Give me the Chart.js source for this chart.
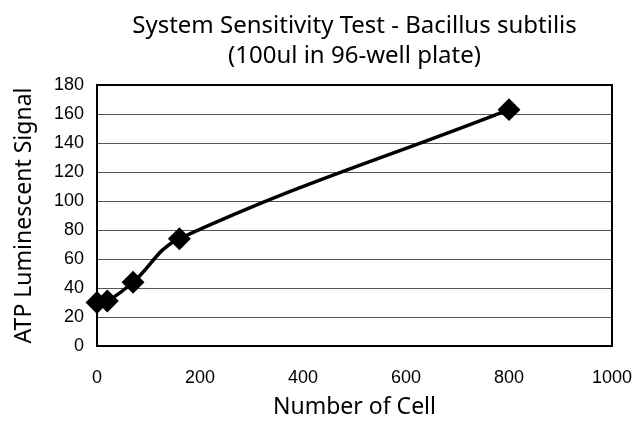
<!DOCTYPE html>
<html>
<head>
<meta charset="utf-8">
<script src="https://cdn.jsdelivr.net/npm/chart.js@4"></script>
<style>
html,body{margin:0;padding:0;background:#fff;}
#wrap{width:637px;height:421px;}
</style>
</head>
<body>
<div id="wrap"><canvas id="c" width="637" height="421"></canvas></div>
<script>
const cellCounts = [0, 20, 70, 160, 800];
const signalValues = [30, 31, 44, 74, 163];
const xTicks = [0, 200, 400, 600, 800, 1000];
const yTicks = [0, 20, 40, 60, 80, 100, 120, 140, 160, 180];
const titleLines = ['System Sensitivity Test - Bacillus subtilis', '(100ul in 96-well plate)'];

const points = cellCounts.map((x, i) => ({x: x, y: signalValues[i]}));
const titleFont = "'Noto Sans', sans-serif";
const tickFont = "'Liberation Sans', Arial, sans-serif";

const boxPlugin = {
  id: 'box',
  afterDraw(chart) {
    const a = chart.chartArea, ctx = chart.ctx;
    ctx.save();
    ctx.strokeStyle = '#000';
    ctx.lineWidth = 2;
    ctx.strokeRect(a.left, a.top, a.right - a.left, a.bottom - a.top);
    ctx.restore();
  }
};

new Chart(document.getElementById('c'), {
  type: 'scatter',
  data: {
    datasets: [{
      data: points,
      showLine: true,
      borderColor: '#000',
      backgroundColor: '#000',
      borderWidth: 3.5,
      tension: 0.4,
      pointStyle: 'rectRot',
      pointRadius: 9,
      pointHoverRadius: 9,
      clip: false
    }]
  },
  options: {
    responsive: false,
    animation: false,
    layout: {padding: {left: 0, right: 25, top: 0, bottom: 0}},
    plugins: {
      legend: {display: false},
      tooltip: {enabled: false},
      title: {
        display: true,
        fullSize: false,
        text: titleLines,
        color: '#000',
        font: {family: titleFont, size: 24, weight: 'normal', lineHeight: 1.25},
        padding: {top: 11, bottom: 14}
      }
    },
    scales: {
      x: {
        type: 'linear',
        min: 0, max: 1000,
        afterBuildTicks(s) { s.ticks = xTicks.map(v => ({value: v})); },
        afterFit(s) { s.height = 75; s.paddingLeft = 0; s.paddingRight = 0; },
        grid: {display: false, drawTicks: false},
        border: {display: true, color: '#000', width: 2},
        ticks: {color: '#000', font: {family: tickFont, size: 18}, padding: 21, maxRotation: 0,
                callback: v => String(v)},
        title: {display: true, text: 'Number of Cell', color: '#000', font: {family: titleFont, size: 23}, padding: {top: 2, bottom: 0}}
      },
      y: {
        type: 'linear',
        min: 0, max: 180,
        afterBuildTicks(s) { s.ticks = yTicks.map(v => ({value: v})); },
        afterFit(s) { s.width = 97; s.paddingTop = 0; s.paddingBottom = 0; },
        grid: {display: true, drawTicks: false, color: '#555', lineWidth: 1, borderDash: [1, 3]},
        border: {display: true, color: '#000', width: 2},
        ticks: {color: '#000', font: {family: tickFont, size: 18}, padding: 13, callback: v => String(v)},
        title: {display: true, text: 'ATP Luminescent Signal', color: '#000', font: {family: titleFont, size: 23}, padding: {top: 11, bottom: 2}}
      }
    }
  },
  plugins: [boxPlugin]
});
</script>
</body>
</html>
